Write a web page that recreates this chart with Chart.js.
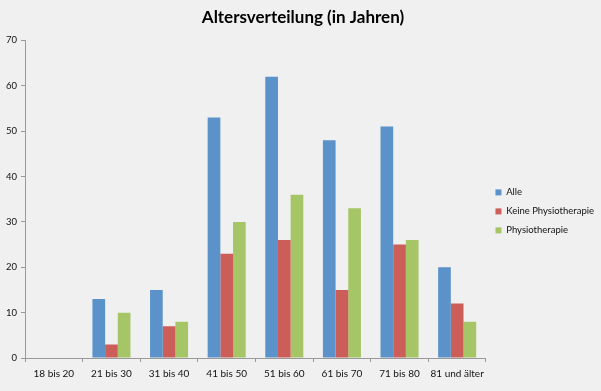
<!DOCTYPE html>
<html>
<head>
<meta charset="utf-8">
<script src="https://cdn.jsdelivr.net/npm/chart.js@4"></script>
<style>
  html, body { margin: 0; padding: 0; background: #f0f0f0; }
  #wrap { width: 601px; height: 391px; }
</style>
</head>
<body>
<div id="wrap"><canvas id="myChart"></canvas></div>
<script>
// Daten
const categories = ["18 bis 20", "21 bis 30", "31 bis 40", "41 bis 50", "51 bis 60", "61 bis 70", "71 bis 80", "81 und älter"];
const alle = [0, 13, 15, 53, 62, 48, 51, 20];
const keinePhysio = [0, 3, 7, 23, 26, 15, 25, 12];
const physio = [0, 10, 8, 30, 36, 33, 26, 8];
const yTicks = [0, 10, 20, 30, 40, 50, 60, 70];

const fontFamily = "Lato, 'Open Sans', sans-serif";

const config = {
    type: 'bar',
    data: {
        labels: categories,
        datasets: [
            {label: "Alle", data: alle, backgroundColor: "#5a92c9"},
            {label: "Keine Physiotherapie", data: keinePhysio, backgroundColor: "#cc5e59"},
            {label: "Physiotherapie", data: physio, backgroundColor: "#a5c567"}
        ]},
    options: {
      responsive: true,
      maintainAspectRatio: false,
      animation: false,
      layout: {
        padding: {left: 2, right: -3, top: 6, bottom: 5}
      },
      datasets: {
        bar: {
          barPercentage: 1,
          categoryPercentage: 0.66
        }
      },
      plugins: {
          title: {
              display: true,
              text: "Altersverteilung (in Jahren)",
              color: "#000",
              font: {family: fontFamily, size: 17, weight: 'bold'},
              padding: {top: 1, bottom: 13}
          },
          legend: {
              position: 'right',
              title: {
                  display: true,
                  text: ' ',
                  font: {family: fontFamily, size: 9},
                  padding: {top: 0, bottom: 20}
              },
              labels: {
                  boxWidth: 6,
                  boxHeight: 6,
                  padding: 9.5,
                  color: "#111",
                  font: {family: fontFamily, size: 9.5}
              }
          },
          tooltip: {enabled: false}
      },
      scales: {
          x: {
              grid: {
                  drawOnChartArea: false,
                  drawTicks: true,
                  tickLength: 4,
                  color: "#999"
              },
              border: {color: "#999"},
              ticks: {
                  color: "#111",
                  maxRotation: 0,
                  padding: 6,
                  font: {family: fontFamily, size: 10},
              },
          },
          y: {
              min: 0,
              max: 70,
              afterBuildTicks: (axis) => { axis.ticks = yTicks.map(v => ({value: v})); },
              grid: {
                  drawOnChartArea: false,
                  drawTicks: true,
                  tickLength: 4,
                  color: "#999"
              },
              border: {color: "#999"},
              ticks: {
                  color: "#111",
                  padding: 4,
                  font: {family: fontFamily, size: 9.5},
              },
          },
      }
  }
};

const ctx = document.getElementById('myChart');
const myChart = new Chart(ctx, config);
</script>
</body>
</html>
